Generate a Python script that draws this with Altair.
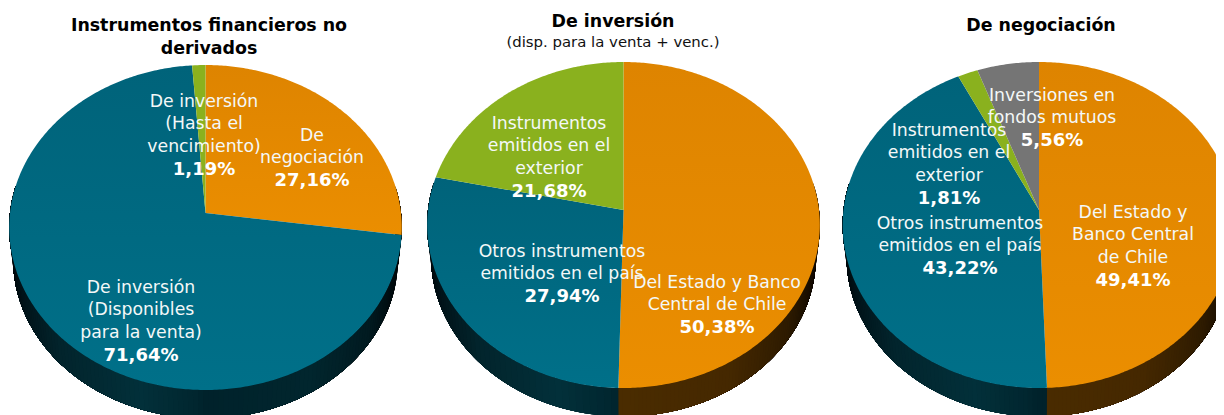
import numpy as np
import altair as alt

# ---------- data ----------
pie1_names = [["De", "negociación"], ["De inversión", "(Disponibles", "para la venta)"], ["De inversión", "(Hasta el", "vencimiento)"]]
pie1_values = [27.16, 71.64, 1.19]
pie1_hues = ["orange", "teal", "green"]

pie2_names = [["Del Estado y Banco", "Central de Chile"], ["Otros instrumentos", "emitidos en el país"], ["Instrumentos", "emitidos en el", "exterior"]]
pie2_values = [50.38, 27.94, 21.68]
pie2_hues = ["orange", "teal", "green"]

pie3_names = [["Del Estado y", "Banco Central", "de Chile"], ["Otros instrumentos", "emitidos en el país"], ["Instrumentos", "emitidos en el", "exterior"], ["Inversiones en", "fondos mutuos"]]
pie3_values = [49.41, 43.22, 1.81, 5.56]
pie3_hues = ["orange", "teal", "green", "gray"]

# ---------- layout (page pixels, minus the 8px margin below) ----------
pie1_geom = dict(cx=205.5, apex=213, up=148, down=177)
pie2_geom = dict(cx=623.5, apex=210, up=148, down=178)
pie3_geom = dict(cx=1039.0, apex=210, up=148, down=178)
pie1_label_xy = [(312, 135.5), (141, 287.5), (204, 101.5)]
pie2_label_xy = [(717, 282.5), (562, 251.5), (549, 123.5)]
pie3_label_xy = [(1133, 212.5), (960, 223.5), (949, 130.5), (1052, 95.5)]
HALF_W = 195.5
DEPTH = 32
SHRINK = 0.98
LINE = 22.8
M = 8

fills = {
    "orange": ("#de8400", "#eb8e00"),
    "teal": ("#00637a", "#007089"),
    "green": ("#8ab11e", "#8ab11e"),
    "gray": ("#757575", "#757575"),
}
side_stops = [-1.0, -0.9, -0.7, -0.3, -0.05, 0.0, 0.5, 0.8, 0.95, 1.0]
side_teal = ["#000608", "#01141a", "#02242c", "#02303a", "#01262f", "#00222b", "#01262e", "#011a20", "#000a0d", "#000405"]
side_orange = ["#0a0500", "#1a0f00", "#3a2100", "#4a2c00", "#4a2c00", "#4a2c00", "#452800", "#2e1b00", "#140b00", "#050200"]
side_map = {"teal": side_teal, "orange": side_orange, "green": side_teal, "gray": side_teal}


def hex2rgb(h):
    return np.array([int(h[i:i + 2], 16) for i in (1, 3, 5)], dtype=float)


def side_color(hue, t):
    cols = np.array([hex2rgb(c) for c in side_map[hue]])
    rgb = [np.interp(t, side_stops, cols[:, i]) for i in range(3)]
    return "#%02x%02x%02x" % tuple(int(round(c)) for c in rgb)


def project(g, theta, scale=1.0, drop=0.0):
    k = (g["down"] - g["up"]) / (g["down"] + g["up"])
    b = g["up"] * (1 + k)
    u, v = np.sin(theta), np.cos(theta)
    den = 1 + k * v
    return (g["cx"] - M + HALF_W * scale * u / den,
            g["apex"] - M - b * v / den * scale + drop)


def poly(points, **props):
    pts = [[float(x), float(y)] for x, y in points]
    pts.append(pts[0])
    return {"type": "Feature", "properties": props,
            "geometry": {"type": "Polygon", "coordinates": [pts]}}


def arcs(values):
    total = sum(values)
    c = np.cumsum([0] + list(values)) / total * 2 * np.pi
    return list(zip(c[:-1], c[1:]))


proj = alt.Projection(type="identity", scale=1, translate=[0, 0])
WIDTH, HEIGHT = 1208, 407
frame = poly([(0, 0), (WIDTH, 0), (WIDTH, HEIGHT), (0, HEIGHT)], color="none")
side_feats = [frame]
face_layers = []
text_rows = []

for geom, values, hues, names, label_xy in [
    (pie1_geom, pie1_values, pie1_hues, pie1_names, pie1_label_xy),
    (pie2_geom, pie2_values, pie2_hues, pie2_names, pie2_label_xy),
    (pie3_geom, pie3_values, pie3_hues, pie3_names, pie3_label_xy),
]:
    for (a0, a1), hue, value, lines, (lx, ly) in zip(arcs(values), hues, values, names, label_xy):
        th = np.linspace(a0, a1, max(2, int((a1 - a0) * 90)))
        # side wall: painted from each step to the end of the slice's visible part
        vis = np.linspace(max(a0, 1.4), min(a1, 2 * np.pi - 1.4), max(2, int((a1 - a0) * 30)))
        if min(a1, 2 * np.pi - 1.4) > max(a0, 1.4):
            for t0, t1 in zip(vis[:-1], vis[1:]):
                col = side_color(hue, float(np.sin((t0 + t1) / 2)))
                run = np.linspace(t0, vis[-1], max(2, int((vis[-1] - t0) * 40)))
                outline = [project(geom, t) for t in run] + [project(geom, t, SHRINK, DEPTH) for t in run[::-1]]
                side_feats.append(poly(outline, color=col))
        # top face slice
        pts = [project(geom, 0.0, 0.0)] + [project(geom, t) for t in th]
        top, bottom = fills[hue]
        face_layers.append(
            alt.Chart(alt.Data(values=[poly(pts, color=top)])).mark_geoshape(
                clip=True, strokeWidth=0,
                fill=alt.Gradient(gradient="linear", x1=0, y1=0, x2=0, y2=1,
                                  stops=[alt.GradientStop(color=top, offset=0),
                                         alt.GradientStop(color=bottom, offset=1)])
            ).project(**proj.to_dict())
        )
        rows = list(lines) + [f"{value:.2f}%".replace(".", ",")]
        for i, s in enumerate(rows):
            text_rows.append({"t": s, "x": lx - M, "y": ly - M + i * LINE,
                              "bold": i == len(rows) - 1})

side = alt.Chart(alt.Data(values=side_feats)).mark_geoshape(clip=True, strokeWidth=0).encode(
    fill=alt.Color("properties.color:N", scale=None, legend=None),
).project(**proj.to_dict())

titles_bold = [("Instrumentos financieros no", 209, 26), ("derivados", 209, 49),
               ("De inversión", 613, 22), ("De negociación", 1041, 26)]
subtitle = [("(disp. para la venta + venc.)", 613, 43)]

FONT = "DejaVu Sans"


def text_layer(rows, **kw):
    return alt.Chart(alt.Data(values=rows)).mark_text(font=FONT, baseline="middle", align="center", **kw).encode(
        x=alt.X("x:Q", scale=None, axis=None),
        y=alt.Y("y:Q", scale=None, axis=None),
        text="t:N",
    )


plain = [r for r in text_rows if not r["bold"]]
bold = [r for r in text_rows if r["bold"]]
chart = alt.layer(
    side, *face_layers,
    text_layer(plain, fontSize=17.3, color="#f4f8f8"),
    text_layer(bold, fontSize=18, fontWeight="bold", color="white"),
    text_layer([{"t": t, "x": x - M, "y": y - M} for t, x, y in titles_bold], fontSize=17.4, fontWeight="bold", color="black"),
    text_layer([{"t": t, "x": x - M, "y": y - M} for t, x, y in subtitle], fontSize=14.9, color="#111111"),
).properties(width=WIDTH, height=HEIGHT, padding=0, autosize=alt.AutoSizeParams(type="none")
).configure_view(stroke=None)

chart.save("out.html", embed_options={"renderer": "svg", "actions": False})
